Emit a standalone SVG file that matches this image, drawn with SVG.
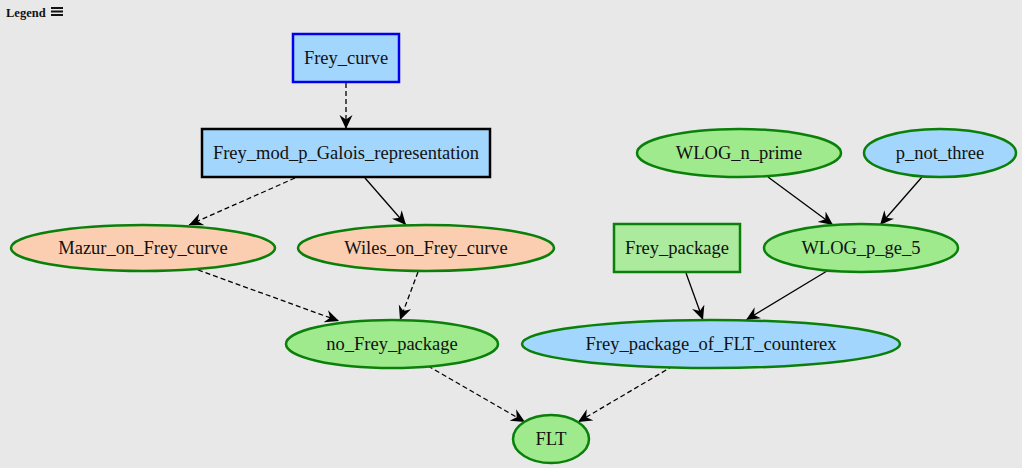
<svg xmlns="http://www.w3.org/2000/svg" width="1022" height="468" viewBox="0 0 1022 468">
<style>
text{font-family:"Liberation Serif","Times New Roman",serif;font-size:18.5px;fill:#111;text-anchor:middle;dominant-baseline:central}
.e{stroke:#000;stroke-width:1.3;fill:none}
.d{stroke-dasharray:5,3}
.g{fill:#9fea8c;stroke:#0a800a;stroke-width:2.5}
.o{fill:#fbceb1;stroke:#0a800a;stroke-width:2.5}
.b{fill:#a3d6fd;stroke:#0a800a;stroke-width:2.5}
</style>
<defs>
<marker id="a" viewBox="0 0 14 14" refX="14" refY="7" markerWidth="14" markerHeight="14" markerUnits="userSpaceOnUse" orient="auto">
<path d="M0,0.5 L14,7 L0,13.5 L4.5,7 Z" fill="#000"/>
</marker>
</defs>
<rect width="1022" height="468" fill="#e8e8e8"/>
<g id="legend">
<text x="6" y="13" style="font-size:12.5px;font-weight:bold;text-anchor:start">Legend</text>
<rect x="51" y="7" width="12" height="2" fill="#111"/>
<rect x="51" y="10.5" width="12" height="2" fill="#111"/>
<rect x="51" y="14" width="12" height="2" fill="#111"/>
</g>
<g id="connectors">
<line class="e d" x1="346" y1="83" x2="346" y2="129" marker-end="url(#a)"/>
<line class="e d" x1="295" y1="178" x2="189" y2="225" marker-end="url(#a)"/>
<line class="e" x1="365" y1="178" x2="406" y2="225" marker-end="url(#a)"/>
<line class="e d" x1="198" y1="270" x2="339" y2="321" marker-end="url(#a)"/>
<line class="e d" x1="418" y1="272" x2="400" y2="320" marker-end="url(#a)"/>
<line class="e" x1="768" y1="177" x2="833" y2="225" marker-end="url(#a)"/>
<line class="e" x1="922" y1="177" x2="880" y2="225" marker-end="url(#a)"/>
<line class="e" x1="686" y1="273" x2="703" y2="320" marker-end="url(#a)"/>
<line class="e" x1="827" y1="271" x2="746" y2="320" marker-end="url(#a)"/>
<line class="e d" x1="428" y1="366" x2="525" y2="422" marker-end="url(#a)"/>
<line class="e d" x1="673" y1="366" x2="578" y2="422" marker-end="url(#a)"/>
</g>
<g id="Frey_curve">
<rect x="293" y="34" width="106" height="48" fill="#a3d6fd" stroke="#0000ee" stroke-width="2.5"/>
<text x="346" y="58">Frey_curve</text>
</g>
<g id="Frey_mod_p_Galois_representation">
<rect x="202" y="129" width="288" height="48" fill="#a3d6fd" stroke="#000" stroke-width="2.5"/>
<text x="346" y="153">Frey_mod_p_Galois_representation</text>
</g>
<g id="Mazur_on_Frey_curve">
<ellipse class="o" cx="143" cy="248" rx="132" ry="23"/>
<text x="143" y="248">Mazur_on_Frey_curve</text>
</g>
<g id="Wiles_on_Frey_curve">
<ellipse class="o" cx="426" cy="248" rx="128" ry="23"/>
<text x="426" y="248">Wiles_on_Frey_curve</text>
</g>
<g id="no_Frey_package">
<ellipse class="g" cx="392" cy="344" rx="106" ry="24"/>
<text x="392" y="344">no_Frey_package</text>
</g>
<g id="WLOG_n_prime">
<ellipse class="g" cx="739" cy="153" rx="102" ry="24"/>
<text x="739" y="153">WLOG_n_prime</text>
</g>
<g id="p_not_three">
<ellipse class="b" cx="940" cy="153" rx="76" ry="24"/>
<text x="940" y="153">p_not_three</text>
</g>
<g id="Frey_package">
<rect x="614" y="224" width="126" height="48" fill="#acea9e" stroke="#0a800a" stroke-width="2.5"/>
<text x="677" y="248">Frey_package</text>
</g>
<g id="WLOG_p_ge_5">
<ellipse class="g" cx="861" cy="248" rx="97" ry="24"/>
<text x="861" y="248">WLOG_p_ge_5</text>
</g>
<g id="Frey_package_of_FLT_counterex">
<ellipse class="b" cx="711" cy="344" rx="189" ry="24"/>
<text x="711" y="344">Frey_package_of_FLT_counterex</text>
</g>
<g id="FLT">
<ellipse class="g" cx="551" cy="439" rx="38" ry="24"/>
<text x="551" y="439">FLT</text>
</g>
</svg>
